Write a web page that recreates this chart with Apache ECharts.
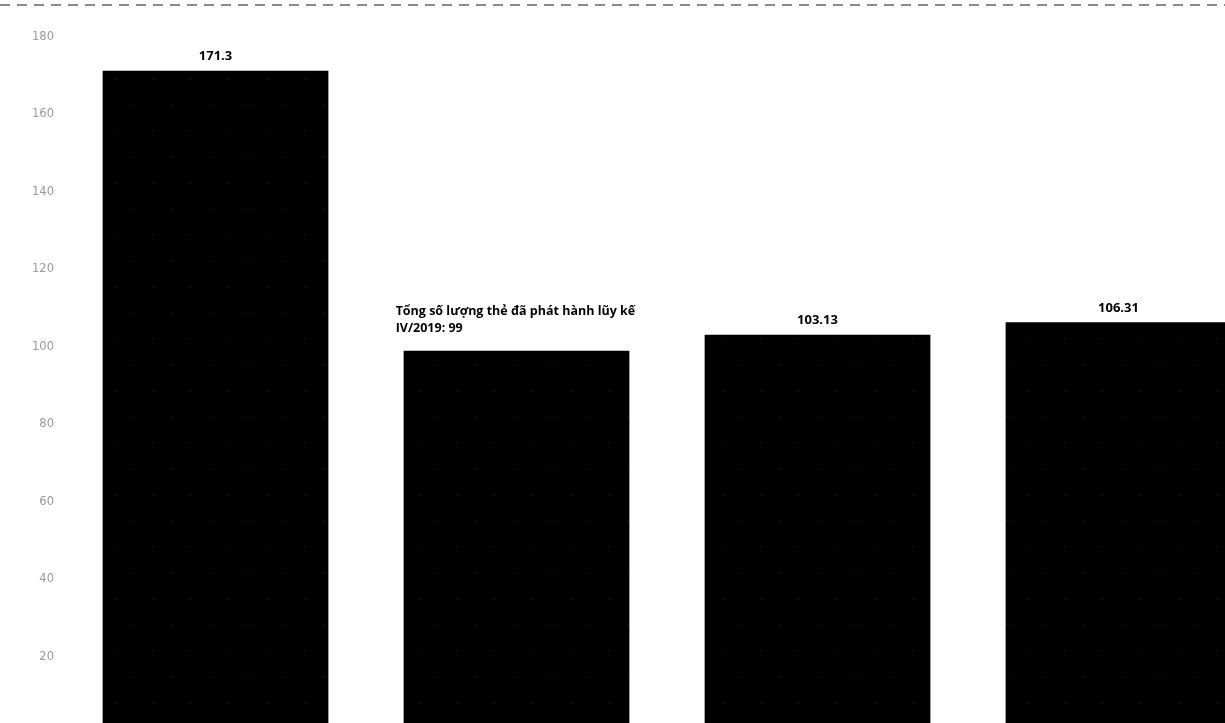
<!DOCTYPE html>
<html><head><meta charset="utf-8">
<script src="https://cdn.jsdelivr.net/npm/echarts@6/dist/echarts.min.js"></script>
<style>html,body{margin:0;padding:0;overflow:hidden;background:#fff;width:1225px;height:723px}#c{width:1270px;height:760px}</style>
</head><body><div id="c"></div>
<script>
const categories = ['Mốc 1', 'IV/2019', 'I/2020', 'II/2020'];
const values = [171.3, 99, 103.13, 106.31];
const labelTexts = ['171.3', 'Tổng số lượng thẻ đã phát hành lũy kế\nIV/2019: 99', '103.13', '106.31'];
const yTicks = [0, 20, 40, 60, 80, 100, 120, 140, 160, 180];

const chart = echarts.init(document.getElementById('c'), null, {renderer: 'canvas'});
const data = values.map((v, i) => {
  const item = {value: v};
  if (i === 1) {
    item.label = {
      show: true, position: [-8, -48], align: 'left', verticalAlign: 'top',
      fontSize: 12.5, lineHeight: 17, formatter: () => labelTexts[i]
    };
  } else {
    item.label = {show: true, formatter: () => labelTexts[i]};
  }
  return item;
});
chart.setOption({
  animation: false,
  backgroundColor: '#fff',
  aria: {enabled: true, decal: {show: true}},
  grid: {left: 65, right: 1, top: 37, bottom: 26, containLabel: false},
  xAxis: {type: 'category', data: categories, axisLine: {show: false}, axisTick: {show: false}, axisLabel: {show: false}},
  yAxis: {
    type: 'value', min: yTicks[0], max: yTicks[yTicks.length - 1], interval: 20,
    axisLine: {show: false}, axisTick: {show: false}, splitLine: {show: false},
    axisLabel: {color: '#9a9a9a', fontSize: 11.5, margin: 11, fontFamily: 'DejaVu Sans'}
  },
  graphic: [{
    type: 'line', shape: {x1: 0, y1: 5, x2: 1225, y2: 5},
    style: {stroke: '#8a8a8a', lineWidth: 2, lineDash: [10, 7]}
  }],
  series: [{
    type: 'bar', data: data, barWidth: '75%',
    itemStyle: {
      color: '#000',
      decal: {symbol: 'circle', symbolSize: 0.5, color: 'rgba(120,120,120,0.55)', dashArrayX: [[2, 36], [0, 19, 2, 17]], dashArrayY: [2, 24], rotation: 0}
    },
    label: {show: true, position: 'top', distance: 8, color: '#000', fontWeight: 'bold', fontSize: 13, fontFamily: 'Open Sans'}
  }]
});
</script></body></html>
